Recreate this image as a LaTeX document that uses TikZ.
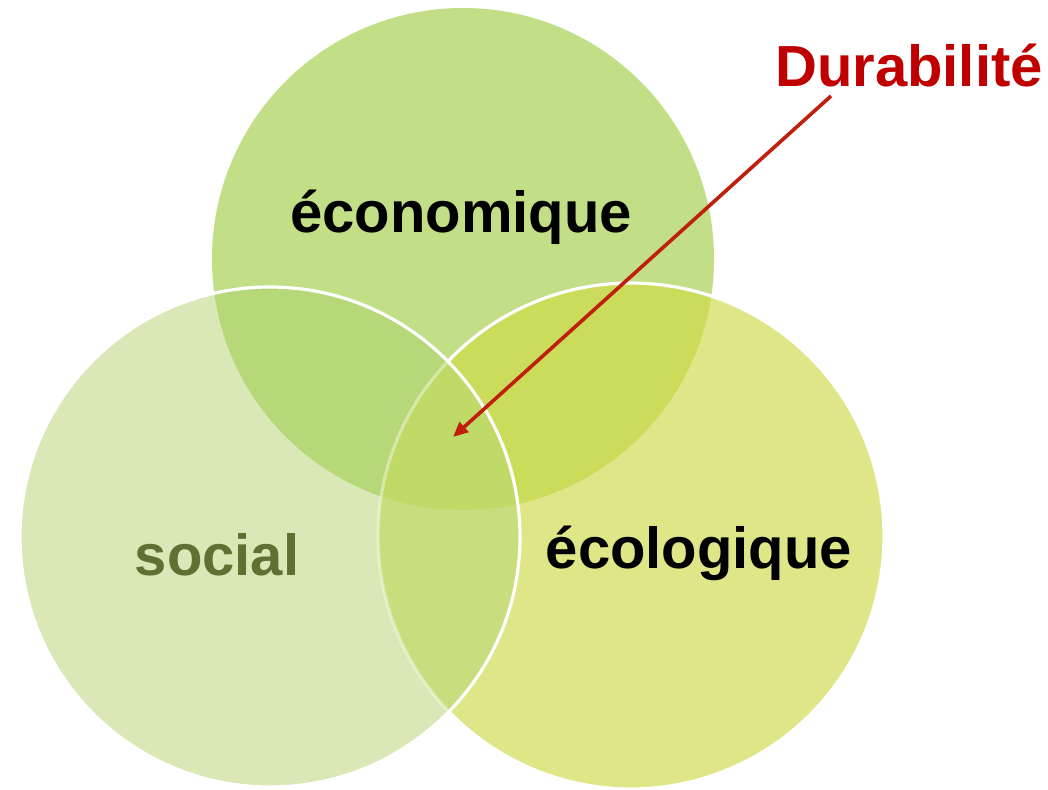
\documentclass[tikz,border=0pt]{standalone}
\usepackage{fontspec}
\setmainfont{Liberation Sans}
\usetikzlibrary{arrows.meta}
\definecolor{colT}{HTML}{C2DE86}
\definecolor{colL}{HTML}{D9E8B6}
\definecolor{colR}{HTML}{DFE688}
\definecolor{colTL}{HTML}{B6D878}
\definecolor{colTR}{HTML}{CBDC5A}
\definecolor{colLR}{HTML}{C8DE7E}
\definecolor{colTLR}{HTML}{BFDA66}
\definecolor{durred}{HTML}{C00000}
\definecolor{arrred}{HTML}{BE200C}
\definecolor{socialgreen}{HTML}{5E7032}
\tikzset{
  bigtext/.style={font=\fontsize{58}{60}\selectfont\bfseries, anchor=base, inner sep=0pt},
  rim/.style={draw=white, line width=3.2pt},
  pointer/.style={draw=arrred, line width=3.6pt, -{Triangle[length=15pt,width=13pt]}}
}
\begin{document}
\begin{tikzpicture}[x=1pt,y=-1pt]
\useasboundingbox (0,0) rectangle (1048,789);
\fill[white] (0,0) rectangle (1048,789);
\coordinate (pT) at (463,259);
\coordinate (pL) at (270,537);
\coordinate (pR) at (631,536);
\def\rT{251}\def\rL{250}\def\rR{253}
% base discs
\fill[colT] (pT) circle[radius=\rT];
\fill[colR] (pR) circle[radius=\rR];
\fill[colL] (pL) circle[radius=\rL];
% pairwise overlaps
\begin{scope}
  \clip (pT) circle[radius=\rT];
  \fill[colTL] (pL) circle[radius=\rL];
  \fill[colTR] (pR) circle[radius=\rR];
\end{scope}
\begin{scope}
  \clip (pL) circle[radius=\rL];
  \fill[colLR] (pR) circle[radius=\rR];
  \clip (pR) circle[radius=\rR];
  \fill[colTLR] (pT) circle[radius=\rT];
\end{scope}
% white rims
\draw[rim] (pR) ++(-136.2:\rR) arc[start angle=-136.2, end angle=136.2, radius=\rR];
\draw[rim, draw opacity=0.4] (pR) ++(136.2:\rR) arc[start angle=136.2, end angle=223.8, radius=\rR];
\draw[rim] (pL) circle[radius=\rL];
% labels
\node[bigtext, text=black] (eco) at (461,232) {économique};
\node[bigtext, text=socialgreen] (soc) at (217,575) {social};
\node[bigtext, text=black] (ecol) at (699,568) {écologique};
\node[bigtext, text=durred] (dur) at (909,87) {Durabilité};
% pointer
\coordinate (durfoot) at (831,96);
\coordinate (core) at (453,437);
\draw[pointer] (durfoot) -- (core);
\end{tikzpicture}
\end{document}
